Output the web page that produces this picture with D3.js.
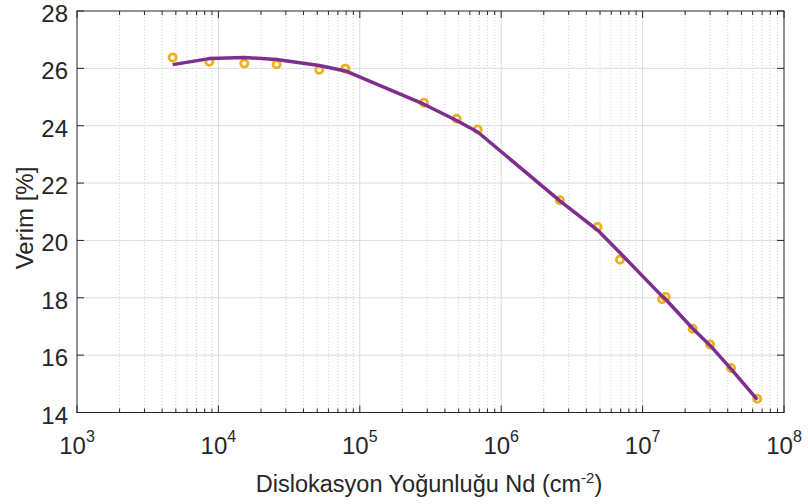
<!DOCTYPE html>
<html>
<head>
<meta charset="utf-8">
<script src="https://cdn.jsdelivr.net/npm/d3@7"></script>
<style>
  html, body { margin: 0; padding: 0; background: #fff; }
  svg text { font-family: "Liberation Sans", Arial, Helvetica, sans-serif; fill: #262626; }
</style>
</head>
<body>
<svg id="chart" width="808" height="504"></svg>
<script>
// Dislocation density (cm^-2) for each sample
const density = [4750, 8630, 15250, 25800, 51700, 79000, 284000, 484000, 682000,
                 2600000, 4800000, 6920000, 13760000, 14550000, 22600000, 30000000, 42200000, 64700000];
// Measured efficiency (%)
const measured = [26.38, 26.23, 26.17, 26.14, 25.95, 25.99, 24.80, 24.24, 23.87,
                  21.40, 20.47, 19.33, 17.95, 18.03, 16.92, 16.37, 15.55, 14.48];
// Fitted efficiency curve (%)
const fitted = [26.13, 26.34, 26.38, 26.31, 26.10, 25.91, 24.75, 24.18, 23.78,
                21.38, 20.36, 19.57, 18.05, 17.95, 16.93, 16.34, 15.52, 14.45];
// Axis ticks
const yTicks = [14, 16, 18, 20, 22, 24, 26, 28];
const xExponents = [3, 4, 5, 6, 7, 8];

const svg = d3.select("#chart");
const m = { left: 77, right: 784, top: 11, bottom: 412.5 };

const x = d3.scaleLog().domain([1e3, 1e8]).range([m.left, m.right]);
const y = d3.scaleLinear().domain([14, 28]).range([m.bottom, m.top]);

// minor grid (2..9 within each decade)
const minor = [];
for (let e = 3; e < 8; e++) for (let k = 2; k <= 9; k++) minor.push(k * Math.pow(10, e));

const grid = svg.append("g");
grid.selectAll(".minor").data(minor).enter().append("line")
  .attr("x1", d => x(d)).attr("x2", d => x(d))
  .attr("y1", m.top).attr("y2", m.bottom)
  .attr("stroke", "#c4c4c4").attr("stroke-width", 0.8)
  .attr("stroke-dasharray", "1,2");
grid.selectAll(".majx").data(xExponents.slice(1, -1)).enter().append("line")
  .attr("x1", d => x(Math.pow(10, d))).attr("x2", d => x(Math.pow(10, d)))
  .attr("y1", m.top).attr("y2", m.bottom)
  .attr("stroke", "#dcdcdc").attr("stroke-width", 1);
grid.selectAll(".majy").data(yTicks.slice(1, -1)).enter().append("line")
  .attr("x1", m.left).attr("x2", m.right)
  .attr("y1", d => y(d)).attr("y2", d => y(d))
  .attr("stroke", "#dcdcdc").attr("stroke-width", 1);

// box axes with inward ticks
const axisColor = "#262626";
const ax = svg.append("g");
ax.append("rect").attr("x", m.left).attr("y", m.top)
  .attr("width", m.right - m.left).attr("height", m.bottom - m.top)
  .attr("fill", "none").attr("stroke", axisColor).attr("stroke-width", 1);

// x ticks (bottom & top)
xExponents.forEach(e => {
  const px = x(Math.pow(10, e));
  ax.append("line").attr("x1", px).attr("x2", px).attr("y1", m.bottom).attr("y2", m.bottom - 7).attr("stroke", axisColor);
  ax.append("line").attr("x1", px).attr("x2", px).attr("y1", m.top).attr("y2", m.top + 7).attr("stroke", axisColor);
});
minor.forEach(v => {
  const px = x(v);
  ax.append("line").attr("x1", px).attr("x2", px).attr("y1", m.bottom).attr("y2", m.bottom - 4).attr("stroke", axisColor);
  ax.append("line").attr("x1", px).attr("x2", px).attr("y1", m.top).attr("y2", m.top + 4).attr("stroke", axisColor);
});
// y ticks (left & right)
yTicks.forEach(v => {
  const py = y(v);
  ax.append("line").attr("x1", m.left).attr("x2", m.left + 7).attr("y1", py).attr("y2", py).attr("stroke", axisColor);
  ax.append("line").attr("x1", m.right).attr("x2", m.right - 7).attr("y1", py).attr("y2", py).attr("stroke", axisColor);
});

// y tick labels
svg.append("g").selectAll("text").data(yTicks).enter().append("text")
  .attr("x", m.left - 9).attr("y", d => y(d) + 11)
  .attr("text-anchor", "end").attr("font-size", 24)
  .text(d => d);

// x tick labels as 10^n
const xl = svg.append("g").selectAll("text").data(xExponents).enter().append("text")
  .attr("x", d => x(Math.pow(10, d))).attr("y", 454)
  .attr("text-anchor", "middle").attr("font-size", 24);
xl.append("tspan").text("10");
xl.append("tspan").attr("font-size", 16).attr("dy", -12).text(d => d);

// axis titles
const xt = svg.append("text").attr("x", 429).attr("y", 492)
  .attr("text-anchor", "middle").attr("font-size", 23.5);
xt.append("tspan").text("Dislokasyon Yoğunluğu Nd (cm");
xt.append("tspan").attr("font-size", 15).attr("dy", -9).text("-2");
xt.append("tspan").attr("dy", 9).text(")");

svg.append("text").attr("transform", "translate(33,218) rotate(-90)")
  .attr("text-anchor", "middle").attr("font-size", 24)
  .text("Verim [%]");

// measured points
svg.append("g").selectAll("circle").data(density).enter().append("circle")
  .attr("cx", d => x(d)).attr("cy", (d, i) => y(measured[i]))
  .attr("r", 3.6).attr("fill", "none")
  .attr("stroke", "#EDB120").attr("stroke-width", 2.8);

// fitted curve
const line = d3.line().x(d => x(d[0])).y(d => y(d[1]));
svg.append("path").datum(density.map((d, i) => [d, fitted[i]]))
  .attr("d", line).attr("fill", "none")
  .attr("stroke", "#7E2F8E").attr("stroke-width", 3.5)
  .attr("stroke-linejoin", "round");
</script>
</body>
</html>
